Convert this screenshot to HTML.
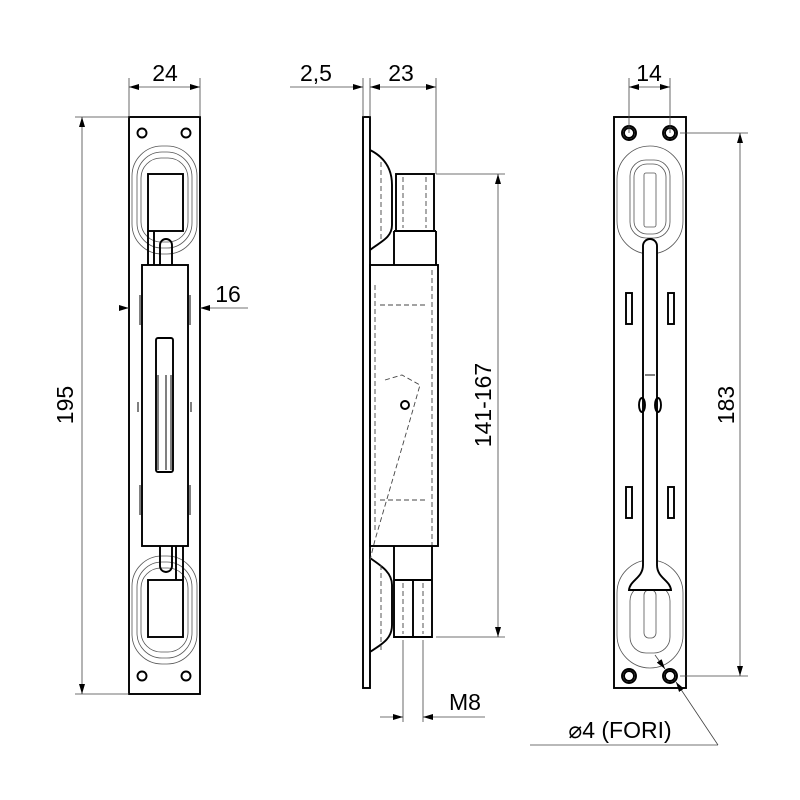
<!DOCTYPE html>
<html><head><meta charset="utf-8"><style>body{margin:0;background:#fff}svg{display:block}</style></head><body>
<svg width="800" height="800" viewBox="0 0 800 800" xmlns="http://www.w3.org/2000/svg" font-family="Liberation Sans, sans-serif">
<defs>
<marker id="a" viewBox="0 0 10 6" refX="10" refY="3" markerWidth="10" markerHeight="6" orient="auto-start-reverse" markerUnits="userSpaceOnUse"><path d="M0,0L10,3L0,6z" fill="#000"/></marker>
</defs>
<g fill="none" stroke="#000" stroke-width="1.9">
<!-- LEFT VIEW -->
<rect x="129" y="117" width="71" height="577"/>
<circle cx="142" cy="133" r="4.5"/><circle cx="186" cy="133" r="4.5"/>
<circle cx="142" cy="676" r="4.5"/><circle cx="186" cy="676" r="4.5"/>
<g stroke-width="0.8" stroke="#555">
<rect x="132" y="146" width="65" height="108" rx="30"/>
<rect x="137" y="152" width="55" height="96" rx="25"/>
<rect x="141" y="158" width="47" height="84" rx="20"/>
<rect x="132" y="556" width="65" height="108" rx="30"/>
<rect x="137" y="562" width="55" height="96" rx="25"/>
<rect x="141" y="568" width="47" height="84" rx="20"/>
</g>
<rect x="148" y="174" width="35" height="57" fill="#fff"/>
<rect x="148" y="580" width="35" height="57" fill="#fff"/>
<path d="M148,231V265M154,231V265M160,265V245a6,6 0 0 1 12,0V265"/>
<path d="M176,546V580M183,546V580M160,546V566a6,6 0 0 0 12,0V546"/>
<rect x="142" y="265" width="46" height="281" fill="#fff"/>
<path d="M140,295V325M190,295V325M140,485V515M190,485V515" stroke-width="1"/>
<rect x="156" y="338" width="17" height="134" rx="2"/>
<path d="M158,375V470M166,375V470M171,375V470" stroke-width="1"/>
<path d="M138,402V412M191,402V412" stroke-width="1"/>
<!-- MIDDLE VIEW -->
<rect x="363" y="117" width="7" height="571"/>
<path d="M370,150C380,155 392,165 392,185V225C392,238 380,242 370,250"/>
<path d="M370,558C380,565 392,572 392,585V625C392,640 380,645 370,652"/>
<rect x="396" y="174" width="38" height="57"/>
<path d="M394,231V265M436,231V265M394,231L436,231"/>
<rect x="370" y="265" width="68" height="281"/>
<path d="M394,546V580H432V546M394,580V637H432V580M413,580V637"/>
<g stroke-width="0.9" stroke-dasharray="5,3" stroke="#444">
<path d="M403,177V228M426,177V228M403,583V634M423,583V634"/>
<path d="M375,285V530M432,270V545M380,305H428M380,500H428"/>
<path d="M385,380L402,375L420,385L410,420L375,540L370,560"/>
<path d="M381,162V240M381,565V650"/>
</g>
<circle cx="405" cy="405" r="4"/>
<!-- RIGHT VIEW -->
<rect x="614" y="117" width="72" height="571"/>
<g>
<circle cx="629" cy="133" r="7"/><circle cx="629" cy="133" r="5"/>
<circle cx="670" cy="133" r="7"/><circle cx="670" cy="133" r="5"/>
<circle cx="629" cy="676" r="7"/><circle cx="629" cy="676" r="5"/>
<circle cx="670" cy="676" r="7"/><circle cx="670" cy="676" r="5"/>
</g>
<g stroke-width="0.8" stroke="#555">
<rect x="617" y="146" width="66" height="108" rx="33"/>
<rect x="630" y="160" width="40" height="78" rx="16"/>
<rect x="634" y="164" width="32" height="70" rx="13"/>
<rect x="644" y="173" width="12" height="54" rx="2"/>
<rect x="617" y="560" width="66" height="108" rx="33"/>
<rect x="630" y="585" width="40" height="68" rx="16"/>
<rect x="644" y="590" width="12" height="48" rx="5"/>
</g>
<path d="M643,570V246a7,7 0 0 1 14,0V570" fill="#fff"/>
<path d="M643,565C643,578 630,580 629,590H671C670,580 657,578 657,565" fill="#fff"/>
<rect x="626" y="293" width="6" height="31"/><rect x="668" y="293" width="6" height="31"/>
<rect x="626" y="487" width="6" height="31"/><rect x="668" y="487" width="6" height="31"/>
<path d="M645,375H655" stroke-width="1"/>
<ellipse cx="642" cy="405" rx="3" ry="7"/><ellipse cx="658" cy="405" rx="3" ry="7"/>
</g>
<!-- DIMENSIONS -->
<g fill="none" stroke="#444" stroke-width="0.8">
<path d="M129,78V117M200,78V117"/>
<path d="M129,87H200" marker-start="url(#a)" marker-end="url(#a)"/>
<path d="M120,308H129" marker-end="url(#a)"/><path d="M248,308H200" marker-end="url(#a)"/>
<path d="M75,117H129M75,694H129"/>
<path d="M82,117V694" marker-start="url(#a)" marker-end="url(#a)"/>
<path d="M363,78V117M370,78V117M436,78V174"/>
<path d="M290,87H363" marker-end="url(#a)"/>
<path d="M370,87H436" marker-start="url(#a)" marker-end="url(#a)"/>
<path d="M436,174H505M436,637H505"/>
<path d="M498,174V637" marker-start="url(#a)" marker-end="url(#a)"/>
<path d="M403,640V722M423,640V722"/>
<path d="M380,717H403" marker-end="url(#a)"/><path d="M485,717H423" marker-end="url(#a)"/>
<path d="M629,78V133M670,78V133"/>
<path d="M629,87H670" marker-start="url(#a)" marker-end="url(#a)"/>
<path d="M680,133H748M680,676H748"/>
<path d="M740,133V676" marker-start="url(#a)" marker-end="url(#a)"/>
<path d="M655,655L665,669" marker-end="url(#a)"/>
<path d="M718,745L676,682" marker-end="url(#a)"/>
<path d="M530,745H718"/>
</g>
<g font-size="23" fill="#000" text-anchor="middle">
<text x="165" y="81">24</text>
<text x="228" y="302">16</text>
<text x="73" y="405" transform="rotate(-90 73 405)">195</text>
<text x="316" y="81">2,5</text>
<text x="401" y="81">23</text>
<text x="491" y="405" transform="rotate(-90 491 405)">141-167</text>
<text x="465" y="710">M8</text>
<text x="649" y="81">14</text>
<text x="734" y="405" transform="rotate(-90 734 405)">183</text>
<text x="620" y="738">⌀4 (FORI)</text>
</g>
</svg>
</body></html>
